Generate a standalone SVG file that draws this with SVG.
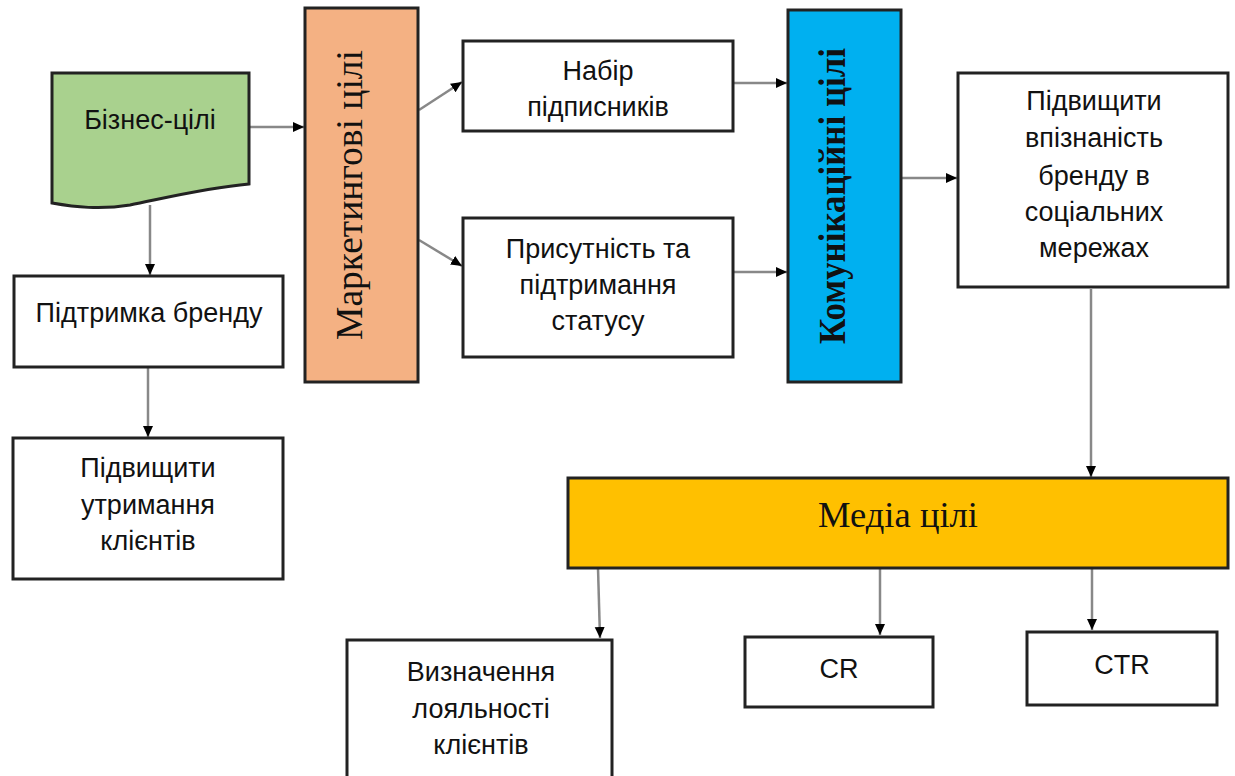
<svg xmlns="http://www.w3.org/2000/svg" width="1235" height="776" viewBox="0 0 1235 776">
<style>
.box{fill:#fff;stroke:#222;stroke-width:3}
.t{font-family:"Liberation Sans",Arial,sans-serif;font-size:27px;fill:#111;text-anchor:middle}
.s{font-family:"Liberation Serif","Times New Roman",serif;fill:#111;text-anchor:middle}
.c{stroke:#888;stroke-width:2.5;fill:none;marker-end:url(#a)}
</style>
<defs>
<marker id="a" markerUnits="userSpaceOnUse" markerWidth="12" markerHeight="12" refX="11" refY="6" orient="auto">
<path d="M0,1 L11,6 L0,11 Z" fill="#000"/>
</marker>
</defs>
<rect width="1235" height="776" fill="#fff"/>
<g id="connectors">
<line class="c" x1="250" y1="127" x2="304" y2="127"/>
<line class="c" x1="150" y1="205" x2="150" y2="275"/>
<line class="c" x1="148" y1="367" x2="148" y2="437"/>
<line class="c" x1="419" y1="110" x2="462" y2="82"/>
<line class="c" x1="419" y1="240" x2="462" y2="266"/>
<line class="c" x1="733" y1="83" x2="787" y2="83"/>
<line class="c" x1="733" y1="272" x2="787" y2="272"/>
<line class="c" x1="901" y1="178" x2="957" y2="178"/>
<line class="c" x1="1091" y1="289" x2="1091" y2="477"/>
<line class="c" x1="598" y1="568" x2="600" y2="638"/>
<line class="c" x1="880" y1="568" x2="880" y2="635"/>
<line class="c" x1="1092" y1="568" x2="1092" y2="630"/>
</g>
<g id="biznes">
<path d="M52,73 L249,73 L249,184 C205,188 165,198 130,205 C100,210 75,207 52,203 Z" fill="#A9D18E" stroke="#222" stroke-width="3"/>
<text class="t" x="150" y="129" font-size="29">Бізнес-цілі</text>
</g>
<g id="pidtrymka">
<rect class="box" x="14" y="276" width="269" height="91"/>
<text class="t" x="149" y="322">Підтримка бренду</text>
</g>
<g id="utrymannia">
<rect class="box" x="13" y="438" width="270" height="141"/>
<text class="t" x="148" y="477">Підвищити</text>
<text class="t" x="148" y="514">утримання</text>
<text class="t" x="148" y="550">клієнтів</text>
</g>
<g id="marketing">
<rect x="305" y="8" width="113" height="374" fill="#F4B183" stroke="#222" stroke-width="3"/>
<text class="s" font-size="38" textLength="290" lengthAdjust="spacingAndGlyphs" transform="translate(362,195) rotate(-90)">Маркетингові цілі</text>
</g>
<g id="nabir">
<rect class="box" x="463" y="41" width="270" height="90"/>
<text class="t" x="598" y="80">Набір</text>
<text class="t" x="598" y="116">підписників</text>
</g>
<g id="prysutnist">
<rect class="box" x="463" y="218" width="270" height="139"/>
<text class="t" x="598" y="258">Присутність та</text>
<text class="t" x="598" y="294">підтримання</text>
<text class="t" x="598" y="330">статусу</text>
</g>
<g id="komunikatsiini">
<rect x="788" y="10" width="113" height="372" fill="#00B0F0" stroke="#222" stroke-width="3"/>
<text class="s" font-size="38" font-weight="bold" textLength="296" lengthAdjust="spacingAndGlyphs" transform="translate(845,196) rotate(-90)">Комунікаційні цілі</text>
</g>
<g id="vpiznanist">
<rect class="box" x="958" y="73" width="270" height="214"/>
<text class="t" x="1094" y="110">Підвищити</text>
<text class="t" x="1094" y="147">впізнаність</text>
<text class="t" x="1094" y="185">бренду в</text>
<text class="t" x="1094" y="221">соціальних</text>
<text class="t" x="1094" y="257">мережах</text>
</g>
<g id="media">
<rect x="568" y="478" width="660" height="90" fill="#FFC000" stroke="#222" stroke-width="3"/>
<text class="s" font-size="36" x="898" y="527" textLength="160" lengthAdjust="spacingAndGlyphs">Медіа цілі</text>
</g>
<g id="loialnist">
<rect class="box" x="347" y="640" width="265" height="140"/>
<text class="t" x="481" y="681">Визначення</text>
<text class="t" x="481" y="718">лояльності</text>
<text class="t" x="481" y="754">клієнтів</text>
</g>
<g id="cr">
<rect class="box" x="745" y="637" width="188" height="70"/>
<text class="t" x="839" y="678">CR</text>
</g>
<g id="ctr">
<rect class="box" x="1027" y="632" width="190" height="73"/>
<text class="t" x="1122" y="674">CTR</text>
</g>
</svg>
